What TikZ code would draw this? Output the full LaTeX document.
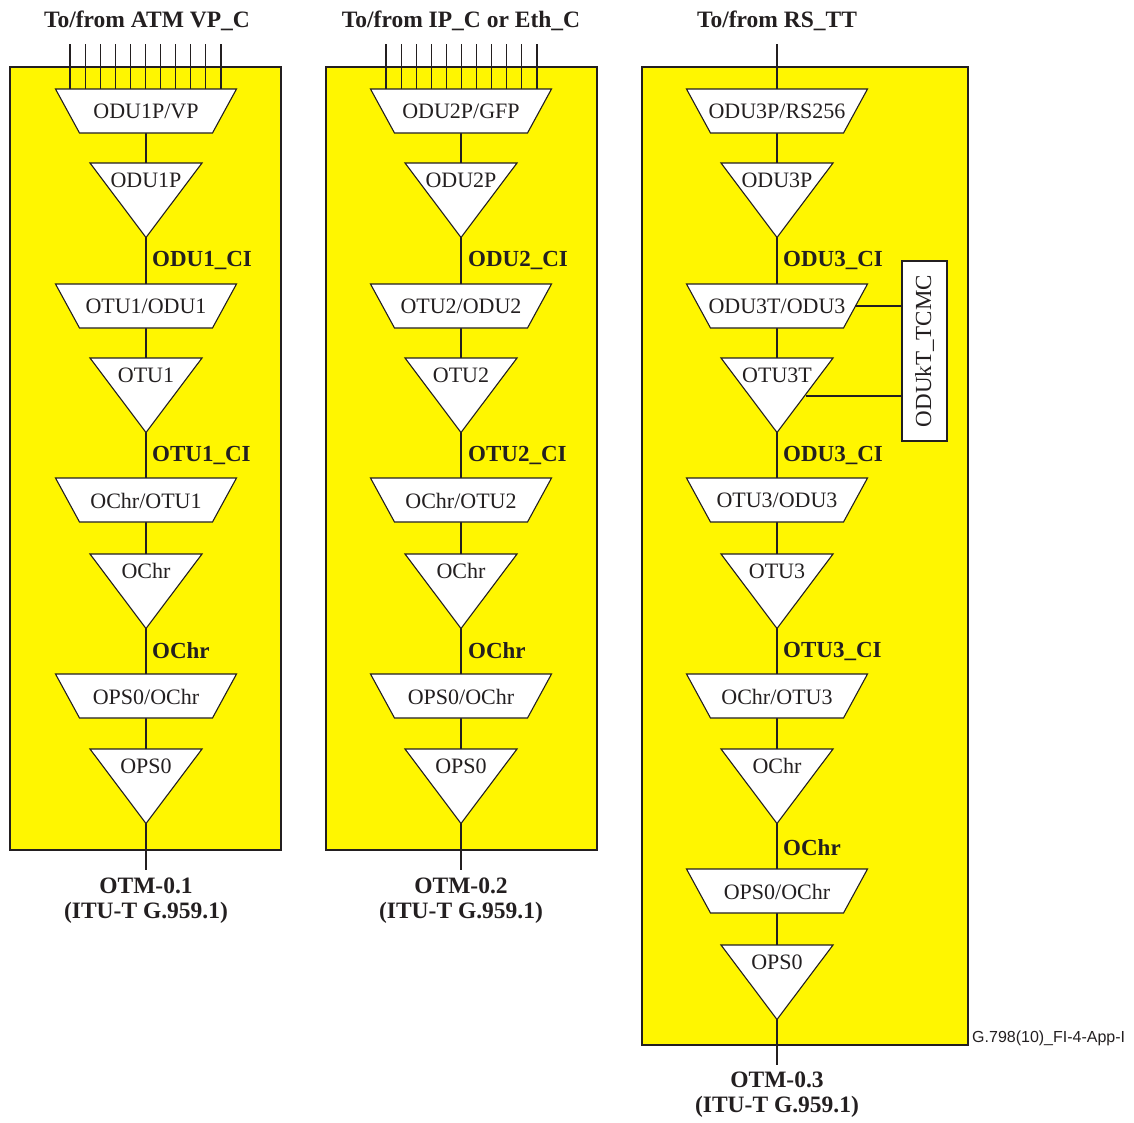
\documentclass[tikz,border=0pt]{standalone}
\usepackage{fontspec}
\setmainfont{Liberation Serif}
\newfontfamily\arialfont{Liberation Sans}
\definecolor{ylw}{RGB}{255,246,0}
\definecolor{ink}{RGB}{35,31,32}
\tikzset{
  shp/.style={draw=ink, fill=white, line width=1.1pt, line join=miter},
  lbl/.style={inner sep=0pt, text=ink, font=\fontsize{22}{24}\selectfont},
  bl/.style={inner sep=0pt, text=ink, anchor=west, font=\fontsize{23}{25}\selectfont\bfseries},
  hd/.style={inner sep=0pt, text=ink, font=\fontsize{23.5}{26}\selectfont\bfseries},
  wire/.style={draw=ink, line width=1.1pt},
  panel/.style={draw=ink, fill=ylw, line width=1.3pt},
}
\newcommand\mytrap[4]{%
  \draw[shp] (#2-90.5,#3) -- (#2+90.5,#3) -- (#2+66.5,#3+44) -- (#2-66.5,#3+44) -- cycle;
  \node[lbl] (#1) at (#2,#3+22.5) {#4};
  \coordinate (#1-t) at (#2,#3);
  \coordinate (#1-b) at (#2,#3+44);}
\newcommand\mytri[4]{%
  \draw[shp] (#2-56,#3) -- (#2+56,#3) -- (#2,#3+74.5) -- cycle;
  \node[lbl] (#1) at (#2,#3+17) {#4};
  \coordinate (#1-t) at (#2,#3);
  \coordinate (#1-b) at (#2,#3+74.5);}
\begin{document}
\begin{tikzpicture}[x=1pt,y=-1pt]
\useasboundingbox (0,0) rectangle (1134,1122);
% panels
\path[panel] (10,67) rectangle (281,850);
\path[panel] (326,67) rectangle (597,850);
\path[panel] (642,67) rectangle (968,1045);
% headings
\node[hd] (h1) at (147,21) {To/from ATM VP\_C};
\node[hd] (h2) at (461,21) {To/from IP\_C or Eth\_C};
\node[hd] (h3) at (777,21) {To/from RS\_TT};
% input lines
\foreach \i in {0,...,10} {
  \coordinate (ia\i) at (70+15.1*\i,44);
  \coordinate (ja\i) at (70+15.1*\i,89);
  \draw[wire] (ia\i) -- (ja\i);
  \coordinate (ib\i) at (386+15.1*\i,44);
  \coordinate (jb\i) at (386+15.1*\i,89);
  \draw[wire] (ib\i) -- (jb\i);
}
\coordinate (ic) at (777,44);
% vertical spines (drawn under shapes)
\coordinate (e1) at (146,870);
\coordinate (e2) at (461,870);
\coordinate (e3) at (777,1065);
\draw[wire] (146,89) -- (e1);
\draw[wire] (461,89) -- (e2);
\draw[wire] (ic) -- (e3);
% column 1
\mytrap{a1}{146}{89}{ODU1P/VP}
\mytri{a2}{146}{163}{ODU1P}
\mytrap{a3}{146}{284}{OTU1/ODU1}
\mytri{a4}{146}{358}{OTU1}
\mytrap{a5}{146}{478}{OChr/OTU1}
\mytri{a6}{146}{554}{OChr}
\mytrap{a7}{146}{674}{OPS0/OChr}
\mytri{a8}{146}{749}{OPS0}
\node[bl] (la1) at (152,260) {ODU1\_CI};
\node[bl] (la2) at (152,455) {OTU1\_CI};
\node[bl] (la3) at (152,651) {OChr};
% column 2
\mytrap{b1}{461}{89}{ODU2P/GFP}
\mytri{b2}{461}{163}{ODU2P}
\mytrap{b3}{461}{284}{OTU2/ODU2}
\mytri{b4}{461}{358}{OTU2}
\mytrap{b5}{461}{478}{OChr/OTU2}
\mytri{b6}{461}{554}{OChr}
\mytrap{b7}{461}{674}{OPS0/OChr}
\mytri{b8}{461}{749}{OPS0}
\node[bl] (lb1) at (468,260) {ODU2\_CI};
\node[bl] (lb2) at (468,455) {OTU2\_CI};
\node[bl] (lb3) at (468,651) {OChr};
% column 3
\mytrap{c1}{777}{89}{ODU3P/RS256}
\mytri{c2}{777}{163}{ODU3P}
\mytrap{c3}{777}{284}{ODU3T/ODU3}
\mytri{c4}{777}{358}{OTU3T}
\mytrap{c5}{777}{478}{OTU3/ODU3}
\mytri{c6}{777}{554}{OTU3}
\mytrap{c7}{777}{674}{OChr/OTU3}
\mytri{c8}{777}{749}{OChr}
\mytrap{c9}{777}{869}{OPS0/OChr}
\mytri{c10}{777}{945}{OPS0}
\node[bl] (lc1) at (783,260) {ODU3\_CI};
\node[bl] (lc2) at (783,455) {ODU3\_CI};
\node[bl] (lc3) at (783,651) {OTU3\_CI};
\node[bl] (lc4) at (783,848) {OChr};
% TCM box
\node[draw=ink, fill=white, line width=1.1pt, minimum width=45pt, minimum height=180pt, inner sep=0pt] (tcm) at (924.5,351) {};
\node[inner sep=0pt, text=ink, font=\fontsize{23}{25}\selectfont, rotate=90] (tcmt) at (tcm.center) {ODUkT\_TCMC};
\coordinate (p1) at (855,306);
\coordinate (p2) at (806,396);
\draw[wire] (p1) -- (p1 -| tcm.west);
\draw[wire] (p2) -- (p2 -| tcm.west);
% outputs
\node[hd] (o1) at (146,886) {OTM-0.1};
\node[hd] (o1b) at (146,913) {(ITU-T G.959.1)};
\node[hd] (o2) at (461,886) {OTM-0.2};
\node[hd] (o2b) at (461,913) {(ITU-T G.959.1)};
\node[hd] (o3) at (777,1080) {OTM-0.3};
\node[hd] (o3b) at (777,1107) {(ITU-T G.959.1)};
\node[inner sep=0pt, anchor=west, text=ink, font=\arialfont\fontsize{16}{18}\selectfont] (ref) at (972,1038) {G.798(10)\_FI-4-App-I};
\end{tikzpicture}
\end{document}
